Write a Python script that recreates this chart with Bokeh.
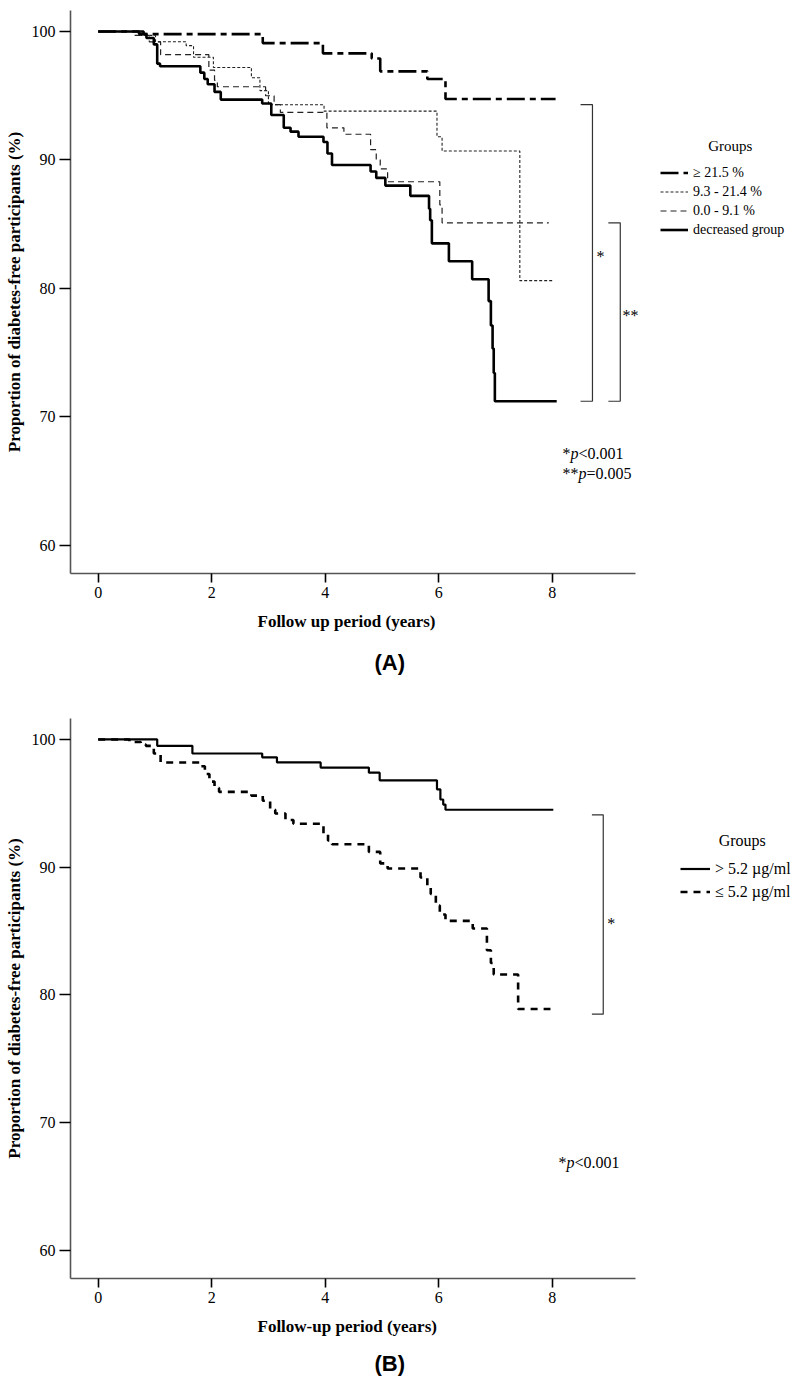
from bokeh.plotting import figure
from bokeh.models import Range1d, FixedTicker, Legend, LegendItem, Label, Title
from bokeh.layouts import column
from bokeh.embed import file_html
from bokeh.resources import INLINE

SERIF = "Liberation Serif"
SANS = "Liberation Sans"

# ---------------- Panel A data ----------------
a_labels = ["\u2265 21.5 %", "9.3 - 21.4 %", "0.0 - 9.1 %", "decreased group"]

a_t_g1 = [0, 0.80, 2.90, 3.96, 4.82, 4.97, 5.80, 6.12, 8.06]
a_v_g1 = [100, 99.8, 99.1, 98.3, 97.9, 96.9, 96.3, 94.75, 94.75]

a_t_g2 = [0, 0.75, 1.01, 1.55, 1.68, 2.03, 2.70, 2.85, 3.00, 3.98, 5.97, 6.06, 7.43, 8.03]
a_v_g2 = [100, 99.7, 99.2, 98.9, 98.0, 97.2, 96.4, 95.4, 94.3, 93.8, 91.8, 90.7, 80.6, 80.6]

a_t_g3 = [0, 0.65, 0.90, 1.10, 1.95, 2.05, 2.10, 2.95, 3.10, 3.21, 4.03, 4.33, 4.80, 4.90, 4.97, 5.10, 6.02, 6.06, 7.94]
a_v_g3 = [100, 99.7, 99.2, 98.2, 97.0, 96.2, 95.7, 95.0, 94.3, 93.7, 92.5, 92.0, 90.8, 90.0, 89.3, 88.3, 86.5, 85.1, 85.1]

a_t_g4 = [0, 0.72, 0.85, 0.98, 1.04, 1.09, 1.80, 1.87, 1.93, 2.05, 2.16, 2.89, 3.05, 3.27, 3.39, 3.53,
          3.97, 4.04, 4.12, 4.80, 4.90, 5.06, 5.50, 5.83, 5.85, 5.88, 6.18, 6.59, 6.88, 6.92, 6.95, 6.97, 6.99, 8.08]
a_v_g4 = [100, 99.8, 99.5, 99.0, 97.5, 97.3, 96.8, 96.3, 95.9, 95.3, 94.7, 94.4, 93.5, 92.5, 92.2, 91.8,
          91.4, 90.5, 89.6, 89.1, 88.6, 88.0, 87.2, 86.2, 85.3, 83.5, 82.1, 80.7, 79.0, 77.1, 75.3, 73.4, 71.2, 71.2]

# ---------------- Panel B data ----------------
b_labels = ["> 5.2 \u00b5g/ml", "\u2264 5.2 \u00b5g/ml"]

b_t_hi = [0, 1.04, 1.66, 2.89, 3.15, 3.92, 4.77, 4.96, 5.97, 6.03, 6.08, 6.12, 8.02]
b_v_hi = [100, 99.5, 98.9, 98.6, 98.2, 97.8, 97.4, 96.8, 96.1, 95.3, 94.9, 94.5, 94.5]

b_t_lo = [0, 0.55, 0.75, 0.84, 0.98, 1.10, 1.80, 1.88, 1.96, 2.05, 2.13, 2.70, 2.90, 3.03, 3.12, 3.30, 3.44,
          3.97, 4.05, 4.12, 4.77, 4.97, 5.10, 5.68, 5.80, 5.86, 5.95, 6.02, 6.12, 6.60, 6.85, 6.92, 6.97, 7.40, 7.97]
b_v_lo = [100, 99.8, 99.6, 99.5, 98.9, 98.2, 97.9, 97.3, 96.7, 96.2, 95.9, 95.6, 95.2, 94.5, 94.2, 93.7, 93.4,
          92.6, 92.1, 91.8, 91.2, 90.3, 89.9, 89.2, 88.4, 87.9, 87.0, 86.3, 85.8, 85.2, 83.5, 82.5, 81.6, 78.9, 78.9]

x_ticks = [0, 2, 4, 6, 8]
y_ticks = [60, 70, 80, 90, 100]

# comparison brackets: (y_top, y_bottom, x_left, x_right)
a_brackets = [(94.3, 71.2, 8.50, 8.71), (85.1, 71.2, 8.99, 9.20)]
b_brackets = [(94.1, 78.5, 8.70, 8.90)]

X_START, X_AXIS_END, X_FRAME_END = -0.488, 9.468, 12.235
FIG_W = 792


def make_fig(height, top, bottom, xlabel, y_lo):
    p = figure(width=FIG_W, height=height, x_range=Range1d(X_START, X_FRAME_END), y_range=Range1d(y_lo, 101.64),
               output_backend="svg", toolbar_location=None,
               min_border_left=70, min_border_right=0, min_border_top=top, min_border_bottom=bottom)
    p.outline_line_color = None
    p.xgrid.visible = False
    p.ygrid.visible = False
    p.background_fill_color = "white"
    p.xaxis.ticker = FixedTicker(ticks=x_ticks)
    p.yaxis.ticker = FixedTicker(ticks=y_ticks)
    p.xaxis.bounds = (X_START, X_AXIS_END)
    for ax in (p.xaxis[0], p.yaxis[0]):
        ax.minor_tick_line_color = None
        ax.axis_line_color = "#555555"
        ax.axis_line_width = 1.6
        ax.major_tick_line_color = "#000000"
        ax.major_tick_line_width = 1.6
        ax.major_tick_in = 0
        ax.major_label_text_font = SERIF
        ax.major_label_text_font_size = "16px"
        ax.major_label_text_color = "#000000"
        ax.axis_label_text_font = SERIF
        ax.axis_label_text_font_size = "17px"
        ax.axis_label_text_font_style = "bold"
        ax.axis_label_text_color = "#000000"
    p.xaxis.major_tick_out = 9
    p.yaxis.major_tick_out = 11
    p.xaxis.major_label_standoff = 4
    p.yaxis.major_label_standoff = 4
    p.yaxis.axis_label_standoff = 5
    p.yaxis.axis_label = "Proportion of diabetes-free participants (%)"
    # x-axis title, centred under the drawn axis
    p.add_layout(Title(text=xlabel, align="left", offset=187, standoff=18, text_font=SERIF,
                       text_font_size="17px", text_font_style="bold", text_color="#000000"), "below")
    return p


def add_brackets(p, brackets):
    for (yt, yb, xl, xr) in brackets:
        p.line([xl, xr, xr, xl], [yt, yt, yb, yb], line_color="#333333", line_width=1.2)


def add_text(p, x, y, text, size="16px", style="normal", align="left", xo=0, yo=0):
    p.add_layout(Label(x=x, y=y, text=text, text_font=SERIF, text_font_size=size,
                       text_font_style=style, text_align=align, text_baseline="middle",
                       x_offset=xo, y_offset=yo, text_color="#000000"))


# ---------------- Figure A ----------------
pA = make_fig(690, 10, 117, "Follow up period (years)", 57.78)
rA1 = pA.step(a_t_g1, a_v_g1, mode="after", line_color="#000000", line_width=2.6, line_dash="18 5 6 5")
rA2 = pA.step(a_t_g2, a_v_g2, mode="after", line_color="#222222", line_width=1.1, line_dash="3 2")
rA3 = pA.step(a_t_g3, a_v_g3, mode="after", line_color="#222222", line_width=1.2, line_dash="6 4")
rA4 = pA.step(a_t_g4, a_v_g4, mode="after", line_color="#000000", line_width=2.6)
add_brackets(pA, a_brackets)

legA = Legend(items=[LegendItem(label=l, renderers=[r]) for l, r in zip(a_labels, [rA1, rA2, rA3, rA4])],
              location=(590, 334), padding=0, margin=0, spacing=0, glyph_width=28, glyph_height=19,
              label_height=19, label_standoff=5, label_text_font=SERIF, label_text_font_size="14px",
              label_text_color="#000000", background_fill_alpha=0, border_line_alpha=0)
pA.add_layout(legA)
add_text(pA, 11.14, 91.11, "Groups", size="15px", align="center")

add_text(pA, 8.78, 82.45, "*")
add_text(pA, 9.38, 77.85, "**", align="center")
add_text(pA, 8.18, 67.1, "*")
add_text(pA, 8.18, 67.1, "p", style="italic", xo=8)
add_text(pA, 8.18, 67.1, "<0.001", xo=16)
add_text(pA, 8.18, 65.55, "**")
add_text(pA, 8.18, 65.55, "p", style="italic", xo=16)
add_text(pA, 8.18, 65.55, "=0.005", xo=24)

pA.add_layout(Title(text="(A)", align="left", offset=304, standoff=16, text_font=SANS,
                    text_font_size="22px", text_font_style="bold", text_color="#000000"), "below")

# ---------------- Figure B ----------------
pB = make_fig(693, 28, 105, "Follow-up period (years)", 57.81)
rB1 = pB.step(b_t_hi, b_v_hi, mode="after", line_color="#000000", line_width=2.2)
rB2 = pB.step(b_t_lo, b_v_lo, mode="after", line_color="#000000", line_width=2.6, line_dash="7 6")
add_brackets(pB, b_brackets)

legB = Legend(items=[LegendItem(label=l, renderers=[r]) for l, r in zip(b_labels, [rB1, rB2])],
              location=(610, 375), padding=0, margin=0, spacing=0, glyph_width=30, glyph_height=23,
              label_height=23, label_standoff=5, label_text_font=SERIF, label_text_font_size="16px",
              label_text_color="#000000", background_fill_alpha=0, border_line_alpha=0)
pB.add_layout(legB)
add_text(pB, 11.35, 92.08, "Groups", size="16px", align="center")

add_text(pB, 9.04, 85.56, "*", align="center")
add_text(pB, 8.11, 66.9, "*")
add_text(pB, 8.11, 66.9, "p", style="italic", xo=8)
add_text(pB, 8.11, 66.9, "<0.001", xo=16)

pB.add_layout(Title(text="(B)", align="left", offset=304, standoff=9, text_font=SANS,
                    text_font_size="22px", text_font_style="bold", text_color="#000000"), "below")

layout = column(pA, pB, spacing=0)
open("out.html", "w").write(file_html(layout, INLINE))
